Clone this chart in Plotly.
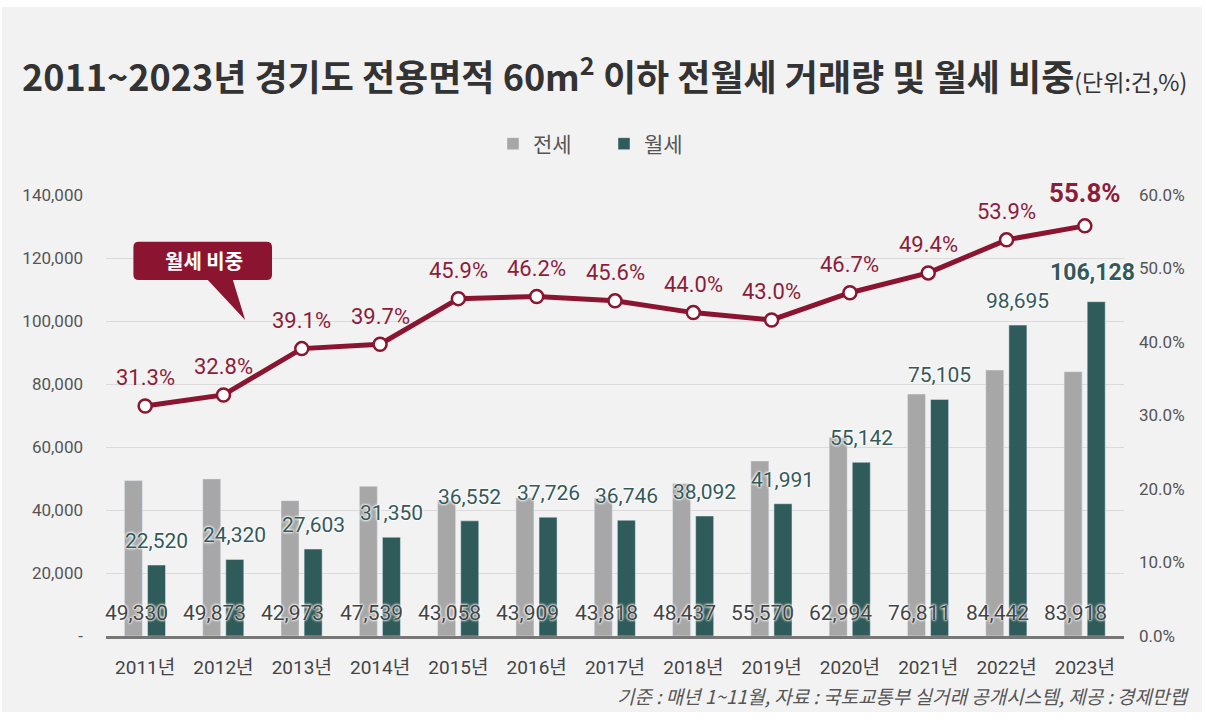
import plotly.graph_objects as go

# --- 데이터 ---
years = ["2011년", "2012년", "2013년", "2014년", "2015년", "2016년", "2017년",
         "2018년", "2019년", "2020년", "2021년", "2022년", "2023년"]
jeonse = [49330, 49873, 42973, 47539, 43058, 43909, 43818,
          48437, 55570, 62994, 76811, 84442, 83918]
wolse = [22520, 24320, 27603, 31350, 36552, 37726, 36746,
         38092, 41991, 55142, 75105, 98695, 106128]
wolse_share = [31.3, 32.8, 39.1, 39.7, 45.9, 46.2, 45.6,
               44.0, 43.0, 46.7, 49.4, 53.9, 55.8]
left_ticks = [0, 20000, 40000, 60000, 80000, 100000, 120000, 140000]
right_ticks = [0, 10, 20, 30, 40, 50, 60]

# --- 스타일 ---
BG = "#f2f2f2"
GRAY_BAR = "#a7a7a7"
TEAL_BAR = "#2f5c5a"
CRIMSON = "#8b1530"
LABEL_RED = "#8c1d3a"
TEXT = "#444444"
NUM_FONT = "Roboto, Noto Sans CJK KR, sans-serif"
KR_FONT = "Noto Sans CJK KR, sans-serif"
GLOW = "0 0 3px #ffffff, 0 0 3px #ffffff, 0 0 2px #ffffff"

# 플롯 영역 (픽셀)
W, H = 1206, 725
ML, MR, MT, MB = 106, 82, 195, 89
PW, PH = W - ML - MR, H - MT - MB


def px(x):
    """페이지 x 픽셀 -> paper 좌표"""
    return (x - ML) / PW


def py(y):
    """페이지 y 픽셀 -> paper 좌표"""
    return (H - MB - y) / PH


xs = list(range(len(years)))

fig = go.Figure()

fig.add_trace(go.Bar(
    x=xs, y=jeonse, name="전세", marker_color=GRAY_BAR,
    width=0.23, offset=-0.265, hoverinfo="y",
))
fig.add_trace(go.Bar(
    x=xs, y=wolse, name="월세", marker_color=TEAL_BAR,
    width=0.23, offset=0.03, hoverinfo="y",
))
fig.add_trace(go.Scatter(
    x=xs, y=wolse_share, yaxis="y2", mode="lines+markers",
    name="월세 비중", showlegend=False,
    line=dict(color=CRIMSON, width=5),
    marker=dict(size=13, color="white", line=dict(color=CRIMSON, width=2.5)),
))

# 전세 라벨 (막대 하단)
for i, v in enumerate(jeonse):
    fig.add_annotation(
        x=i, y=0, xref="x", yref="y", text=f"{v:,}", showarrow=False,
        xshift=-9, yshift=23,
        font=dict(family=NUM_FONT, size=21, color=TEXT, shadow=GLOW),
    )

# 월세 라벨 (막대 위)
for i, v in enumerate(wolse):
    last = i == len(wolse) - 1
    fig.add_annotation(
        x=i + (0.1 if last else 0.145), y=v, xref="x", yref="y",
        text=f"<b>{v:,}</b>" if last else f"{v:,}", showarrow=False,
        yshift=29 if last else 24,
        font=dict(family=NUM_FONT, size=23 if last else 21, color="#34595a", shadow=GLOW),
    )

# 월세 비중 라벨
for i, v in enumerate(wolse_share):
    last = i == len(wolse_share) - 1
    fig.add_annotation(
        x=i, y=v, xref="x", yref="y2",
        text=f"<b>{v:.1f}%</b>" if last else f"{v:.1f}%", showarrow=False,
        yshift=33 if last else 28,
        font=dict(family=NUM_FONT, size=26 if last else 22, color=LABEL_RED),
    )

# 말풍선 "월세 비중"
bx0, bx1, by0, by1 = -0.15, 1.62, 113000, 125170
rx, ry = 0.07, 1700
bubble = (
    f"M {bx0 + rx},{by1} L {bx1 - rx},{by1} Q {bx1},{by1} {bx1},{by1 - ry} "
    f"L {bx1},{by0 + ry} Q {bx1},{by0} {bx1 - rx},{by0} "
    f"L 1.12,{by0} L 1.277,100300 L 0.80,{by0} "
    f"L {bx0 + rx},{by0} Q {bx0},{by0} {bx0},{by0 + ry} "
    f"L {bx0},{by1 - ry} Q {bx0},{by1} {bx0 + rx},{by1} Z"
)
fig.add_shape(type="path", path=bubble, xref="x", yref="y",
              fillcolor=CRIMSON, line=dict(width=0), layer="above")
fig.add_annotation(
    x=0.755, y=119150, xref="x", yref="y", text="<b>월세 비중</b>",
    showarrow=False, font=dict(family=KR_FONT, size=20, color="white"),
)

# 하단 출처
fig.add_annotation(
    x=px(1191), y=py(695), xref="paper", yref="paper",
    xanchor="right", yanchor="middle", showarrow=False,
    text="<i>기준 : 매년 1~11월, 자료 : 국토교통부 실거래 공개시스템, 제공 : 경제만랩</i>",
    font=dict(family=KR_FONT, size=19, color="#555555"),
)

fig.update_layout(
    width=W, height=H,
    margin=dict(l=ML, r=MR, t=MT, b=MB),
    paper_bgcolor=BG, plot_bgcolor=BG,
    title=dict(
        text="2011~2023년 경기도 전용면적 60m<sup>2</sup> 이하 전월세 거래량 및 월세 비중"
             "<span style='font-size:23px;font-weight:normal'>(단위:건,%)</span>",
        x=22 / W, xanchor="left", xref="container",
        y=1 - 78 / H, yanchor="middle", yref="container",
        font=dict(family=KR_FONT, size=36, color="#333333", weight="bold"),
    ),
    legend=dict(
        orientation="h", x=px(493), xanchor="left", y=py(144), yanchor="middle",
        entrywidth=66, entrywidthmode="pixels",
        font=dict(family=KR_FONT, size=21, color="#555555"),
        bgcolor="rgba(0,0,0,0)",
    ),
    barmode="overlay",
    showlegend=True,
    xaxis=dict(
        range=[-0.5, len(years) - 0.5],
        tickvals=xs, ticktext=years,
        showgrid=False, zeroline=False,
        showline=True, linecolor="#777777", linewidth=2.5,
        ticks="", ticklabelstandoff=12,
        tickfont=dict(family=NUM_FONT, size=19, color=TEXT),
        fixedrange=True,
    ),
    yaxis=dict(
        range=[0, 140000],
        tickvals=left_ticks,
        ticktext=["-" if t == 0 else f"{t:,}" for t in left_ticks],
        showgrid=True, gridcolor="#dadada", gridwidth=1,
        zeroline=False, ticks="", ticklabelstandoff=22,
        tickfont=dict(family=NUM_FONT, size=17, color="#555555"),
        fixedrange=True,
    ),
    yaxis2=dict(
        range=[0, 60], overlaying="y", side="right",
        tickvals=right_ticks, ticktext=[f"{t:.1f}%" for t in right_ticks],
        showgrid=False, zeroline=False, ticks="", ticklabelstandoff=14,
        tickfont=dict(family=NUM_FONT, size=17, color="#555555"),
        fixedrange=True,
    ),
)

# 원본 이미지의 흰색 테두리
for x0, x1, y0, y1 in [(-20, W + 20, -20, 7), (-20, W + 20, 712, H + 20),
                       (-20, 2, -20, H + 20), (1202, W + 20, -20, H + 20)]:
    fig.add_shape(type="rect", xref="paper", yref="paper",
                  x0=px(x0), x1=px(x1), y0=py(y1), y1=py(y0),
                  fillcolor="white", line=dict(width=0), layer="below")

fig.write_html("out.html", config={"displayModeBar": False},
               post_script="document.body.style.margin='0';")
